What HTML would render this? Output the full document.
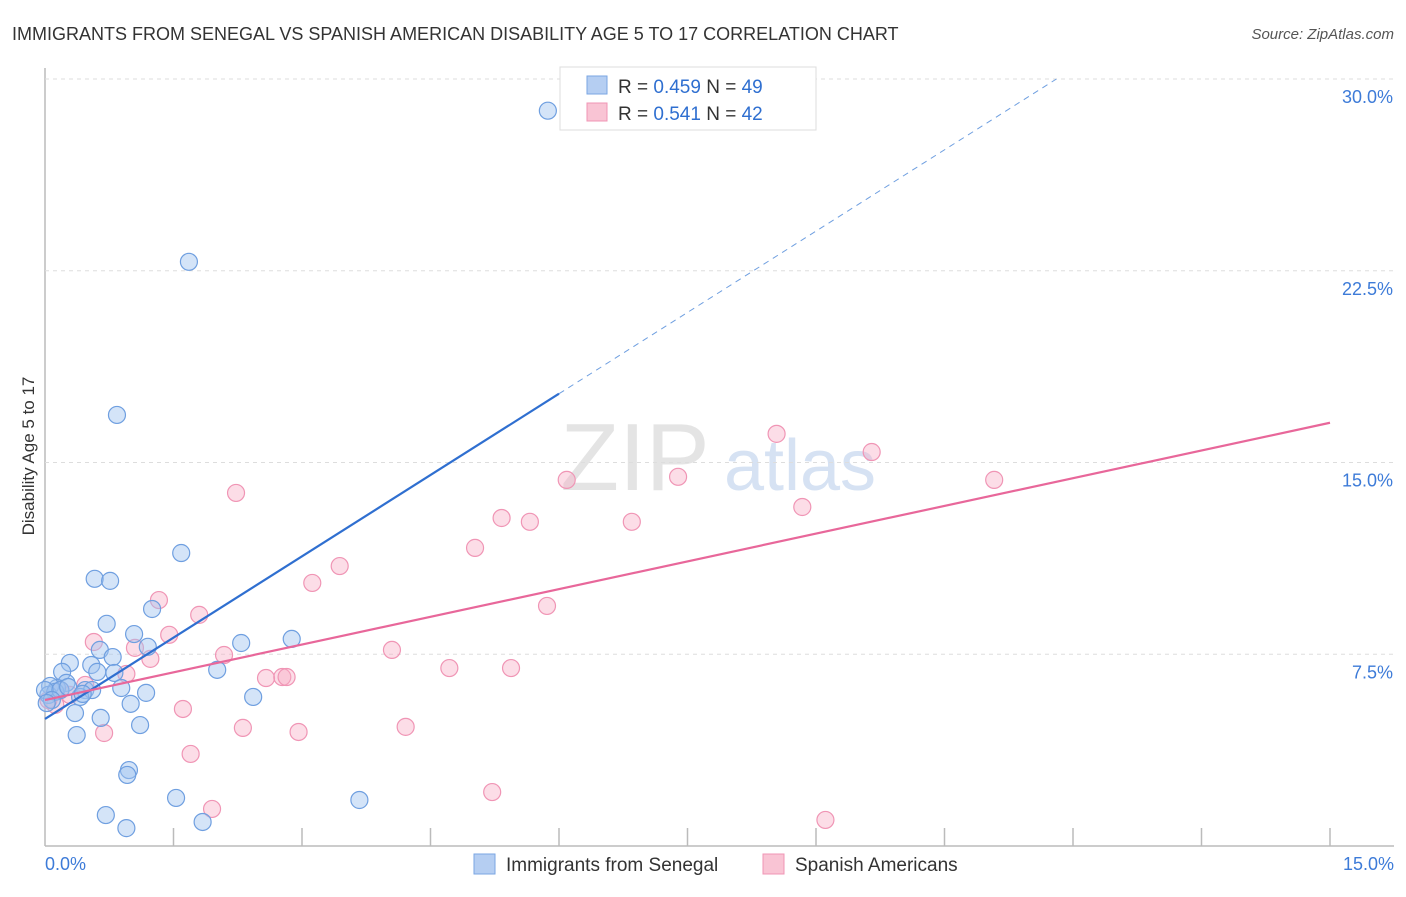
<!DOCTYPE html>
<html><head><meta charset="utf-8"><style>
body{margin:0;background:#fff;font-family:"Liberation Sans",sans-serif;}
svg text{font-family:"Liberation Sans",sans-serif;}
</style></head><body>
<svg id="chart" width="1406" height="892">
<text x="12" y="40" font-size="18" fill="#333">IMMIGRANTS FROM SENEGAL VS SPANISH AMERICAN DISABILITY AGE 5 TO 17 CORRELATION CHART</text>
<text x="1394" y="39" font-size="15" fill="#555" font-style="italic" text-anchor="end">Source: ZipAtlas.com</text>
<text x="34" y="456" font-size="17" fill="#333" text-anchor="middle" transform="rotate(-90 34 456)">Disability Age 5 to 17</text>
<g><text x="635" y="490" font-size="96" fill="#e4e4e4" font-family="Liberation Serif" text-anchor="middle">ZIP</text><text x="800" y="490" font-size="72" fill="#d6e2f3" text-anchor="middle">atlas</text></g>
<g id="grid"></g><g id="pts"></g><g id="lines"></g>
<g>
<rect x="560" y="67" width="256" height="63" fill="#fff" stroke="#ddd"/>
<rect x="587" y="76" width="20" height="18" fill="#b5cef2" stroke="#7aa6e3"/>
<rect x="587" y="103" width="20" height="18" fill="#f9c4d4" stroke="#f095b5"/>
<text x="618" y="93" font-size="19" fill="#333">R = <tspan fill="#2f6fd0">0.459</tspan>   N = <tspan fill="#2f6fd0">49</tspan></text>
<text x="618" y="120" font-size="19" fill="#333">R =  <tspan fill="#2f6fd0">0.541</tspan>   N = <tspan fill="#2f6fd0">42</tspan></text>
</g>
<g>
<rect x="474" y="854" width="21" height="20" fill="#b5cef2" stroke="#7aa6e3"/>
<text x="506" y="871" font-size="19" fill="#333">Immigrants from Senegal</text>
<rect x="763" y="854" width="21" height="20" fill="#f9c4d4" stroke="#f095b5"/>
<text x="795" y="871" font-size="19" fill="#333">Spanish Americans</text>
</g>
</svg>
<script>
const xTicks=[0,1.5,3,4.5,6,7.5,9,10.5,12,13.5,15];
const yTicks=[7.5,15,22.5,30];
const yTickLabels=["7.5%","15.0%","22.5%","30.0%"];
const blueX=[5.87,1.68,0.84,1.59,0.58,0.76,1.25,0.72,1.04,1.20,2.29,2.88,0.29,0.54,0.64,0.79,0.20,0.81,0.61,2.01,0.25,0.14,0.06,0.04,0.12,0.47,0.55,0.89,1.18,2.43,1.00,0.41,0.35,0.65,0.37,1.11,0.98,0.96,1.53,3.67,0.71,1.84,0.95,0.0,0.18,0.27,0.44,0.08,0.02];
const blueY=[28.76,22.85,16.86,11.46,10.45,10.37,9.27,8.69,8.29,7.79,7.94,8.10,7.16,7.08,7.67,7.39,6.81,6.77,6.81,6.89,6.38,6.18,6.26,5.91,6.03,6.10,6.10,6.18,5.99,5.83,5.56,5.83,5.20,5.01,4.34,4.73,2.97,2.78,1.88,1.80,1.21,0.94,0.70,6.10,6.10,6.22,5.95,5.71,5.59];
const pinkX=[2.23,1.33,1.80,1.45,0.57,1.05,1.23,0.95,2.09,3.44,3.12,4.05,5.02,5.33,5.66,6.09,6.85,7.39,5.86,4.72,5.44,2.58,2.77,2.82,1.61,2.31,2.96,4.21,0.69,1.70,1.95,5.22,9.11,8.54,9.65,11.08,8.84,0.12,0.04,0.18,0.29,0.47];
const pinkY=[13.81,9.62,9.04,8.26,7.98,7.75,7.32,6.73,7.47,10.95,10.29,7.67,11.66,12.83,12.68,14.32,12.68,14.44,9.39,6.96,6.96,6.57,6.61,6.61,5.36,4.62,4.46,4.66,4.42,3.60,1.45,2.11,1.02,16.12,15.41,14.32,13.26,5.52,5.71,6.10,5.91,6.30];
const blueTrend=[4.97,2.12];
const pinkTrend=[5.71,0.723];
const X0=45,X1=1330,Y0=846,Y30=79;
const sx=v=>X0+(v/15)*(X1-X0);
const sy=v=>Y0-(v/30)*(Y0-Y30);
const NS="http://www.w3.org/2000/svg";
function mk(tag,attrs,parent){const e=document.createElementNS(NS,tag);for(const k in attrs)e.setAttribute(k,attrs[k]);parent.appendChild(e);return e;}
const grid=document.getElementById('grid');
const ax=mk('line',{x1:X0,y1:68,x2:X0,y2:Y0,stroke:'#bbb','stroke-width':1.5},grid);


const bx=mk('line',{x1:X0,y1:Y0,x2:1394,y2:Y0,stroke:'#bbb','stroke-width':1.5},grid);


yTicks.forEach((t,i)=>{
 const g=mk('line',{x1:X0,y1:sy(t),x2:1394,y2:sy(t),stroke:'#ddd','stroke-dasharray':'4,4'},grid);
 
 
 const l=mk('text',{x:1393,y:sy(t)+24,'font-size':18,fill:'#3d7bd8','text-anchor':'end'},grid);
 l.textContent=yTickLabels[i];
 
 
});
xTicks.forEach((t,i)=>{
 if(i===0)return;
 const k=mk('line',{x1:sx(t),y1:Y0-18,x2:sx(t),y2:Y0,stroke:'#bbb','stroke-width':1.5},grid);
 
 
});
const xl0=mk('text',{x:45,y:870,'font-size':18,fill:'#3d7bd8'},grid);xl0.textContent='0.0%';


const xl1=mk('text',{x:1394,y:870,'font-size':18,fill:'#3d7bd8','text-anchor':'end'},grid);xl1.textContent='15.0%';


const pts=document.getElementById('pts');
pinkX.forEach((x,i)=>{
 const c=mk('circle',{cx:sx(x),cy:sy(pinkY[i]),r:8.5,fill:'rgba(247,170,195,0.4)',stroke:'#f095b5','stroke-width':1.2},pts);
 
 
});
blueX.forEach((x,i)=>{
 const c=mk('circle',{cx:sx(x),cy:sy(blueY[i]),r:8.5,fill:'rgba(160,196,240,0.45)',stroke:'#6f9fe0','stroke-width':1.2},pts);
 
 
});
const lines=document.getElementById('lines');
const bEnd=6.0, bDash=(30-blueTrend[0])/blueTrend[1];
const l1=mk('line',{x1:sx(0),y1:sy(blueTrend[0]),x2:sx(bEnd),y2:sy(blueTrend[0]+blueTrend[1]*bEnd),stroke:'#2f6fd0','stroke-width':2.2},lines);


const l2=mk('line',{x1:sx(bEnd),y1:sy(blueTrend[0]+blueTrend[1]*bEnd),x2:sx(bDash),y2:sy(30),stroke:'#6f9fe0','stroke-width':1,'stroke-dasharray':'6,5'},lines);


const l3=mk('line',{x1:sx(0),y1:sy(pinkTrend[0]),x2:sx(15),y2:sy(pinkTrend[0]+pinkTrend[1]*15),stroke:'#e8679a','stroke-width':2.2},lines);


</script>
</body></html>
